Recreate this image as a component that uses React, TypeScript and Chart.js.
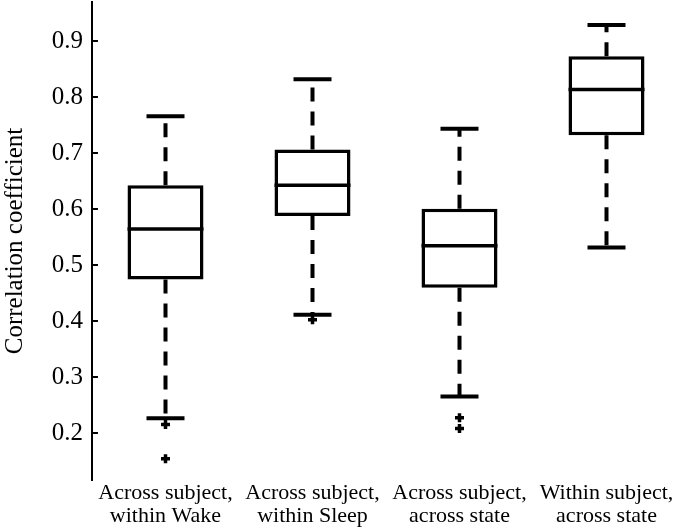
import React, { useEffect, useRef } from "react";
import { Chart, registerables } from "chart.js";

Chart.register(...registerables);

const categories: string[][] = [
  ["Across subject,", "within Wake"],
  ["Across subject,", "within Sleep"],
  ["Across subject,", "across state"],
  ["Within subject,", "across state"],
];
const lowerWhisker = [0.227, 0.412, 0.266, 0.532];
const q1 = [0.475, 0.588, 0.46, 0.732];
const median = [0.565, 0.643, 0.535, 0.814];
const q3 = [0.643, 0.707, 0.601, 0.873];
const upperWhisker = [0.766, 0.832, 0.744, 0.929];
const outliersA: (number | null)[] = [0.216, 0.403, 0.228, null];
const outliersB: (number | null)[] = [0.155, null, 0.209, null];
const yTicks = [0.2, 0.3, 0.4, 0.5, 0.6, 0.7, 0.8, 0.9];

const FONT = "'Liberation Serif', 'Times New Roman', serif";

const boxExtras = {
  id: "boxExtras",
  afterDatasetsDraw(chart: any) {
    const { ctx, scales } = chart;
    const xs = scales.x;
    const ys = scales.y;
    const meta = chart.getDatasetMeta(0);
    const seg = (x1: number, y1: number, x2: number, y2: number) => {
      ctx.beginPath();
      ctx.moveTo(x1, y1);
      ctx.lineTo(x2, y2);
      ctx.stroke();
    };
    ctx.save();
    ctx.strokeStyle = "#000";
    ctx.lineCap = "butt";
    categories.forEach((_c, i) => {
      const bar = meta.data[i];
      const cx = xs.getPixelForValue(i);
      const half = bar.width / 2;
      const capHalf = half / 2;
      const yQ1 = ys.getPixelForValue(q1[i]);
      const yQ3 = ys.getPixelForValue(q3[i]);
      const yLo = ys.getPixelForValue(lowerWhisker[i]);
      const yHi = ys.getPixelForValue(upperWhisker[i]);
      const yMed = ys.getPixelForValue(median[i]);
      ctx.lineWidth = 4;
      ctx.setLineDash([14, 10]);
      seg(cx, yQ3, cx, yHi);
      seg(cx, yQ1, cx, yLo);
      ctx.setLineDash([]);
      seg(cx - capHalf, yHi, cx + capHalf, yHi);
      seg(cx - capHalf, yLo, cx + capHalf, yLo);
      ctx.lineWidth = 3.5;
      seg(cx - half, yMed, cx + half, yMed);
    });
    ctx.restore();
  },
  afterDraw(chart: any) {
    const { ctx, scales, chartArea } = chart;
    const ys = scales.y;
    ctx.save();
    ctx.strokeStyle = "#000";
    ctx.lineWidth = 2;
    ys.ticks.forEach((t: any) => {
      const py = Math.round(ys.getPixelForValue(t.value));
      ctx.beginPath();
      ctx.moveTo(chartArea.left, py);
      ctx.lineTo(chartArea.left + 6, py);
      ctx.stroke();
    });
    ctx.restore();
  },
};

export default function App() {
  const ref = useRef<HTMLCanvasElement | null>(null);
  useEffect(() => {
    if (!ref.current) return;
    const crossStyle = {
      type: "line",
      showLine: false,
      pointStyle: "cross",
      pointRadius: 4.5,
      pointBorderWidth: 3.5,
      pointBorderColor: "#000",
      borderColor: "#000",
    };
    const chart = new Chart(ref.current, {
      type: "bar",
      data: {
        labels: categories as any,
        datasets: [
          {
            type: "bar",
            data: q1.map((v, i) => [v, q3[i]]) as any,
            backgroundColor: "#ffffff",
            borderColor: "#000000",
            borderWidth: 3.5,
            borderSkipped: false,
            barPercentage: 0.517,
            categoryPercentage: 1,
          } as any,
          { ...crossStyle, data: outliersA } as any,
          { ...crossStyle, data: outliersB } as any,
        ],
      },
      options: {
        animation: false,
        responsive: false,
        layout: { autoPadding: false, padding: { top: 2, right: 0, left: 0, bottom: 0 } },
        plugins: { legend: { display: false }, tooltip: { enabled: false } },
        scales: {
          x: {
            type: "category",
            offset: true,
            grid: { display: false, drawTicks: false },
            border: { display: false },
            ticks: {
              color: "#000",
              font: { family: FONT, size: 22, lineHeight: 1.05 },
              padding: 2,
              maxRotation: 0,
              minRotation: 0,
              autoSkip: false,
            },
            afterFit: (s: any) => {
              s.height = 51;
              s.paddingLeft = 0;
              s.paddingRight = 0;
            },
          },
          y: {
            type: "linear",
            min: 0.117,
            max: 0.97,
            afterBuildTicks: (axis: any) => {
              axis.ticks = yTicks.map((v) => ({ value: v }));
            },
            grid: { display: false, drawTicks: false },
            border: { display: true, color: "#000", width: 2 },
            ticks: {
              color: "#000",
              font: { family: FONT, size: 25 },
              padding: 9,
              callback: (v: any) => Number(v).toFixed(1),
            },
            title: {
              display: true,
              text: "Correlation coefficient",
              color: "#000",
              font: { family: FONT, size: 25 },
              padding: 0,
            },
            afterFit: (s: any) => {
              s.width = 92;
              s.paddingTop = 0;
              s.paddingBottom = 0;
            },
          },
        },
      } as any,
      plugins: [boxExtras],
    });
    return () => chart.destroy();
  }, []);
  return (
    <div style={{ position: "absolute", left: 0, top: 0, width: 680, height: 531, background: "#fff" }}>
      <canvas ref={ref} width={680} height={531} style={{ display: "block" }} />
    </div>
  );
}
